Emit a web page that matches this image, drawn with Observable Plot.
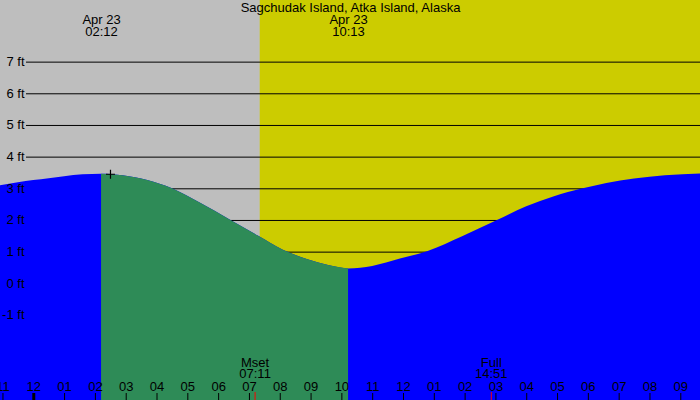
<!DOCTYPE html>
<html><head><meta charset="utf-8">
<script src="https://cdn.jsdelivr.net/npm/d3@7"></script>
<script src="https://cdn.jsdelivr.net/npm/@observablehq/plot@0.6"></script>
<style>body{margin:0;background:#fff}#chart svg{display:block}</style>
</head><body><div id="chart"></div>
<script>
const title = "Sagchudak Island, Atka Island, Alaska";
// tide curve: hour of Apr 23 (local) and height in feet
const tideHours = [-1.08, -0.5, 0, 0.5, 1.0, 1.6, 2.2, 2.9, 3.7, 4.5, 5.4, 6.4, 7.3, 8.1, 8.9, 9.6, 10.217, 11.0, 11.9, 12.8, 13.9, 15.05, 16.0, 16.9, 17.8, 18.6, 19.5, 20.5, 21.64];
const tideFeet  = [3.10, 3.19, 3.26, 3.32, 3.38, 3.44, 3.46, 3.41, 3.26, 3.00, 2.55, 2.00, 1.50, 1.06, 0.76, 0.57, 0.47, 0.55, 0.78, 1.02, 1.48, 2.00, 2.43, 2.75, 2.99, 3.17, 3.31, 3.41, 3.47];
// high and low tide
const extremeHours = [2.2, 10.217];
const extremeLabels = ["Apr 23\n02:12", "Apr 23\n10:13"];
// moon events
const moonHours = [7.183, 14.85];
const moonLabels = ["Mset\n07:11", "Full\n14:51"];
// daylight
const sunriseHour = 7.35;
const viewStart = -1.08, viewEnd = 21.64;
const feetMin = -3.685, feetMax = 8.946;
const feetLevels = [-1, 0, 1, 2, 3, 4, 5, 6, 7];
const gridLevels = [1, 2, 3, 4, 5, 6, 7];
const hourTicks = d3.range(-1, 22);
const markerHour = 2.49, markerFeet = 3.46;

const tide = tideHours.map((h, i) => ({h, ft: tideFeet[i]}));
const falling = tide.filter(d => d.h >= extremeHours[0] - 1e-6 && d.h <= extremeHours[1] + 1e-6);
const fmtHour = h => { let k = ((h % 12) + 12) % 12; if (k === 0) k = 12; return String(k).padStart(2, "0"); };
const font = "'Liberation Sans', Arial, sans-serif";
const txt = {fontSize: 13, fontFamily: font, fill: "black", lineHeight: 0.9};

const plot = Plot.plot({
  width: 700, height: 400,
  marginTop: 0, marginRight: 0, marginBottom: 0, marginLeft: 0,
  x: {domain: [viewStart, viewEnd], axis: null},
  y: {domain: [feetMin, feetMax], axis: null},
  style: {fontFamily: font, fontSize: "13px", background: "white"},
  marks: [
    Plot.rect([{a: viewStart, b: viewEnd}], {x1: "a", x2: "b", fill: "#bebebe"}),
    Plot.rect([{a: sunriseHour, b: viewEnd}], {x1: "a", x2: "b", fill: "#cccc00"}),
    Plot.ruleY(gridLevels, {y: d => d, stroke: "black", insetLeft: 26}),
    Plot.areaY(tide, {x: "h", y1: feetMin, y2: "ft", fill: "#0000ff", curve: "monotone-x"}),
    Plot.areaY(falling, {x: "h", y1: feetMin, y2: "ft", fill: "#2e8b57", curve: "monotone-x"}),
    Plot.text(feetLevels, {y: d => d, text: d => `${d} ft`, frameAnchor: "left", dx: 24, textAnchor: "end", ...txt}),
    Plot.dot([0], {x: () => markerHour, y: () => markerFeet, symbol: "plus", r: 3, stroke: "black", strokeWidth: 1.2}),
    Plot.tickX(hourTicks, {x: d => d, insetTop: 393, stroke: "black", strokeWidth: d => d === 0 ? 3 : 1}),
    Plot.tickX(moonHours, {x: d => d, insetTop: 392, stroke: "red", strokeWidth: 1}),
    Plot.text(hourTicks, {x: d => d, text: fmtHour, frameAnchor: "bottom", lineAnchor: "top", dy: -18.2, ...txt}),
    Plot.text(moonHours, {x: d => d, text: (d, i) => moonLabels[i], frameAnchor: "bottom", lineAnchor: "top", dy: -42.2, ...txt}),
    Plot.text(extremeHours, {x: d => d, text: (d, i) => extremeLabels[i], frameAnchor: "top", lineAnchor: "top", dy: 15.1, ...txt}),
    Plot.text([title], {x: () => (viewStart + viewEnd) / 2, text: d => d, frameAnchor: "top", lineAnchor: "top", dy: 2.8, ...txt})
  ]
});
document.getElementById("chart").appendChild(plot);
</script>
</body></html>
